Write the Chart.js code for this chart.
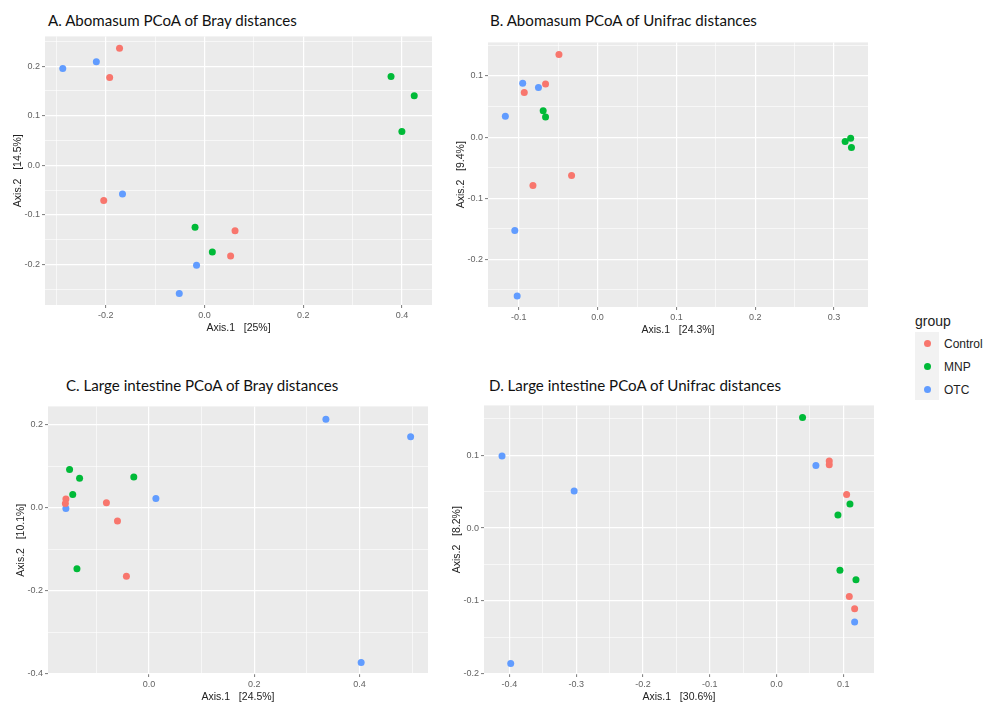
<!DOCTYPE html>
<html>
<head>
<meta charset="utf-8">
<title>PCoA plots</title>
<script src="https://cdn.jsdelivr.net/npm/chart.js@4.4.0/dist/chart.umd.min.js"></script>
<style>
  body { margin: 0; background: #fff; width: 1000px; height: 702px; position: relative; overflow: hidden;
         font-family: "Liberation Sans", Arial, sans-serif; }
  .panel { position: absolute; }
  .title { position: absolute; font-family: Lato, "Open Sans", sans-serif; font-size: 15.1px; line-height: 1;
           color: #111; white-space: nowrap; }
  .lg { position: absolute; color: #222; white-space: nowrap; line-height: 1; }
  .dot { position: absolute; width: 7px; height: 7px; border-radius: 50%; }
</style>
</head>
<body>

<div class="title" style="left:48px; top:12.5px;">A. Abomasum PCoA of Bray distances</div>
<div class="title" style="left:490px; top:12.5px;">B. Abomasum PCoA of Unifrac distances</div>
<div class="title" style="left:66px; top:377.5px;">C. Large intestine PCoA of Bray distances</div>
<div class="title" style="left:489px; top:377.5px;">D. Large intestine PCoA of Unifrac distances</div>

<canvas id="chartA" class="panel" width="438" height="308" style="left:0px; top:29px;"></canvas>
<canvas id="chartB" class="panel" width="431" height="304" style="left:443px; top:35px;"></canvas>
<canvas id="chartC" class="panel" width="431" height="307" style="left:3px; top:399px;"></canvas>
<canvas id="chartD" class="panel" width="441" height="308" style="left:439px; top:398px;"></canvas>

<div id="legend"></div>

<script>
// groups and their ggplot colours
const groups = ["Control", "MNP", "OTC"];
const groupColors = ["#F8766D", "#00BA38", "#619CFF"];

// A. Abomasum, Bray (points are [Axis.1, Axis.2])
const aControl = [[-0.172, 0.236], [-0.192, 0.177], [-0.204, -0.071], [0.062, -0.132], [0.053, -0.183]];
const aMNP     = [[0.378, 0.179], [0.425, 0.140], [0.400, 0.068], [-0.019, -0.125], [0.016, -0.175]];
const aOTC     = [[-0.287, 0.195], [-0.219, 0.209], [-0.166, -0.058], [-0.016, -0.202], [-0.051, -0.259]];

// B. Abomasum, Unifrac
const bControl = [[-0.049, 0.135], [-0.066, 0.087], [-0.093, 0.073], [-0.082, -0.079], [-0.033, -0.063]];
const bMNP     = [[-0.069, 0.043], [-0.066, 0.033], [0.314, -0.007], [0.321, -0.002], [0.322, -0.017]];
const bOTC     = [[-0.095, 0.088], [-0.075, 0.081], [-0.117, 0.034], [-0.105, -0.153], [-0.102, -0.260]];

// C. Large intestine, Bray
const cControl = [[-0.158, 0.021], [-0.159, 0.010], [-0.081, 0.012], [-0.060, -0.032], [-0.043, -0.165]];
const cMNP     = [[-0.151, 0.092], [-0.132, 0.071], [-0.145, 0.032], [-0.029, 0.074], [-0.137, -0.147]];
const cOTC     = [[0.336, 0.213], [0.497, 0.171], [0.403, -0.373], [0.013, 0.022], [-0.158, -0.002]];

// D. Large intestine, Unifrac
const dControl = [[0.079, 0.092], [0.079, 0.087], [0.105, 0.046], [0.109, -0.094], [0.117, -0.111]];
const dMNP     = [[0.039, 0.152], [0.110, 0.033], [0.092, 0.018], [0.095, -0.058], [0.119, -0.071]];
const dOTC     = [[-0.411, 0.099], [-0.303, 0.051], [-0.398, -0.186], [0.059, 0.086], [0.117, -0.129]];

// axis titles
const aXTitle = "Axis.1   [25%]",   aYTitle = "Axis.2   [14.5%]";
const bXTitle = "Axis.1   [24.3%]", bYTitle = "Axis.2   [9.4%]";
const cXTitle = "Axis.1   [24.5%]", cYTitle = "Axis.2   [10.1%]";
const dXTitle = "Axis.1   [30.6%]", dYTitle = "Axis.2   [8.2%]";

// ticks (major = labelled, minor = thin grid line only) and ranges
const aXMajor = [-0.2, 0, 0.2, 0.4],            aXMinor = [-0.3, -0.1, 0.1, 0.3],        aXRange = [-0.323, 0.461];
const aYMajor = [-0.2, -0.1, 0, 0.1, 0.2],      aYMinor = [-0.25, -0.15, -0.05, 0.05, 0.15, 0.25], aYRange = [-0.282, 0.260];
const bXMajor = [-0.1, 0, 0.1, 0.2, 0.3],       bXMinor = [-0.05, 0.05, 0.15, 0.25],     bXRange = [-0.139, 0.343];
const bYMajor = [-0.2, -0.1, 0, 0.1],           bYMinor = [-0.25, -0.15, -0.05, 0.05, 0.15], bYRange = [-0.278, 0.155];
const cXMajor = [0, 0.2, 0.4],                  cXMinor = [-0.1, 0.1, 0.3, 0.5],         cXRange = [-0.192, 0.530];
const cYMajor = [-0.4, -0.2, 0, 0.2],           cYMinor = [-0.3, -0.1, 0.1],             cYRange = [-0.4005, 0.244];
const dXMajor = [-0.4, -0.3, -0.2, -0.1, 0, 0.1], dXMinor = [-0.35, -0.25, -0.15, -0.05, 0.05], dXRange = [-0.438, 0.146];
const dYMajor = [-0.2, -0.1, 0, 0.1],           dYMinor = [-0.15, -0.05, 0.05, 0.15],    dYRange = [-0.2005, 0.1685];

Chart.defaults.font.family = '"Liberation Sans", Arial, sans-serif';

// grey ggplot panel behind the grid
const panelBg = {
  id: "panelBg",
  beforeDraw(chart) {
    const { ctx, chartArea: a } = chart;
    ctx.save();
    ctx.fillStyle = "#EBEBEB";
    ctx.fillRect(a.left, a.top, a.right - a.left, a.bottom - a.top);
    ctx.restore();
  }
};

function axis(pos, range, major, minor, title) {
  const list = major.map(v => ({ value: v, minor: false }))
    .concat(minor.map(v => ({ value: v, minor: true })))
    .filter(t => t.value >= range[0] && t.value <= range[1])
    .sort((p, q) => p.value - q.value);
  const isY = pos === "left";
  return {
    type: "linear",
    position: pos,
    min: range[0],
    max: range[1],
    afterBuildTicks: s => { s.ticks = list.map(t => ({ ...t })); },
    afterFit: s => { if (isY) s.width = 45; else s.height = 32; },
    border: { display: false },
    grid: {
      color: "#ffffff",
      lineWidth: c => (c.tick && c.tick.minor ? 0.6 : 1.2),
      tickLength: 3,
      tickWidth: 1,
      tickColor: c => (c.tick && c.tick.minor ? "rgba(0,0,0,0)" : "#7a7a7a")
    },
    ticks: {
      autoSkip: false,
      maxRotation: 0,
      padding: 2,
      color: "#636363",
      font: { size: 9 },
      callback: (v, i, arr) => (arr[i].minor ? "" : v.toFixed(1))
    },
    title: {
      display: true,
      text: title,
      color: "#222",
      font: { size: 10.5 },
      padding: isY ? { top: 12, bottom: 0 } : { top: 0, bottom: 3 }
    }
  };
}

function toPoints(arr) {
  return arr.map(p => ({ x: p[0], y: p[1] }));
}

function drawPanel(id, series, xr, xMaj, xMin, xt, yr, yMaj, yMin, yt) {
  new Chart(document.getElementById(id), {
    type: "scatter",
    data: {
      datasets: series.map((s, i) => ({
        label: groups[i],
        data: toPoints(s),
        pointRadius: 3.5,
        pointBorderWidth: 0,
        backgroundColor: groupColors[i],
        borderColor: groupColors[i]
      }))
    },
    options: {
      responsive: false,
      animation: false,
      devicePixelRatio: 1,
      layout: { padding: { top: 4, right: 6, left: 0, bottom: 0 } },
      plugins: { legend: { display: false }, tooltip: { enabled: false } },
      scales: {
        x: axis("bottom", xr, xMaj, xMin, xt),
        y: axis("left", yr, yMaj, yMin, yt)
      }
    },
    plugins: [panelBg]
  });
}

drawPanel("chartA", [aControl, aMNP, aOTC], aXRange, aXMajor, aXMinor, aXTitle, aYRange, aYMajor, aYMinor, aYTitle);
drawPanel("chartB", [bControl, bMNP, bOTC], bXRange, bXMajor, bXMinor, bXTitle, bYRange, bYMajor, bYMinor, bYTitle);
drawPanel("chartC", [cControl, cMNP, cOTC], cXRange, cXMajor, cXMinor, cXTitle, cYRange, cYMajor, cYMinor, cYTitle);
drawPanel("chartD", [dControl, dMNP, dOTC], dXRange, dXMajor, dXMinor, dXTitle, dYRange, dYMajor, dYMinor, dYTitle);

// shared legend, ggplot style
const legend = document.getElementById("legend");
let html = '<div class="lg" style="left:915px; top:314px; font-size:14px;">group</div>';
html += '<div style="position:absolute; left:915px; top:332px; width:24px; height:68px; background:#F2F2F2;"></div>';
groups.forEach((g, i) => {
  const cy = 343.5 + i * 23;
  html += '<div class="dot" style="left:924px; top:' + (cy - 3.5) + 'px; background:' + groupColors[i] + ';"></div>';
  html += '<div class="lg" style="left:944px; top:' + (cy - 6) + 'px; font-size:12px;">' + g + '</div>';
});
legend.innerHTML = html;
</script>
</body>
</html>
